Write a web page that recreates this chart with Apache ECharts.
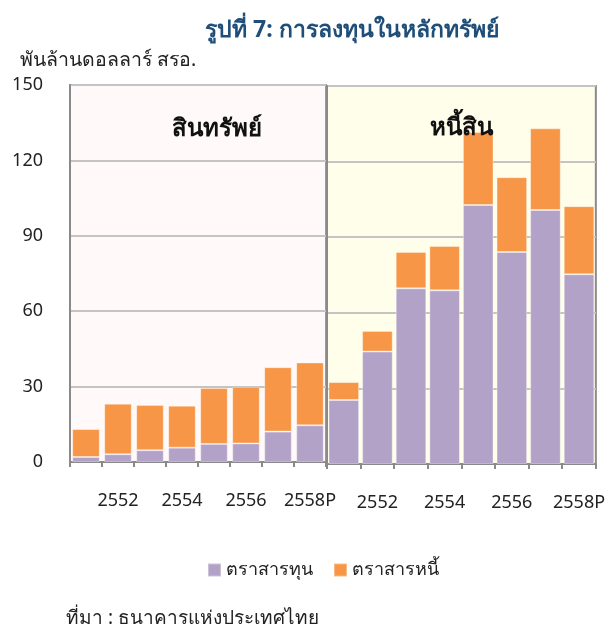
<!DOCTYPE html>
<html>
<head>
<meta charset="utf-8">
<script src="https://cdn.jsdelivr.net/npm/echarts@6/dist/echarts.min.js"></script>
<style>
html,body{margin:0;padding:0;background:#fff;}
#chart{width:608px;height:633px;}
</style>
</head>
<body>
<div id="chart"></div>
<script>
var categories = ['2551','2552','2553','2554','2555','2556','2557','2558P'];
var assetEquity = [2.0, 3.1, 4.7, 5.7, 7.2, 7.4, 12.1, 14.6];
var assetDebt = [11.1, 20.1, 18.0, 16.7, 22.2, 22.5, 25.6, 25.0];
var liabEquity = [25.4, 44.6, 69.7, 68.9, 102.8, 84.1, 100.8, 75.3];
var liabDebt = [7.1, 8.2, 14.4, 17.6, 28.9, 29.7, 32.4, 27.0];
var yTicks = [0, 30, 60, 90, 120, 150];
var seriesNames = ['ตราสารทุน', 'ตราสารหนี้'];
var panelTitles = ['สินทรัพย์', 'หนี้สิน'];

var FONT = 'Tahoma, "Noto Sans", "DejaVu Sans", sans-serif';
var PURPLE = '#B3A2C7';
var ORANGE = '#F79646';

var chart = echarts.init(document.getElementById('chart'));

function xAx(idx) {
  return {
    type: 'category', gridIndex: idx, data: categories,
    axisLine: {show: true, lineStyle: {color: '#8a8a8a', width: 2}},
    axisTick: {show: true, interval: 0, length: 5, lineStyle: {color: '#8a8a8a', width: 2}},
    axisLabel: {interval: function (i) { return i % 2 === 1; }, margin: 30, fontSize: 18, color: '#222', fontFamily: FONT}
  };
}
function yAx(idx, showLabels) {
  return {
    type: 'value', gridIndex: idx, min: 0, max: 150, interval: 30,
    axisLine: {show: true, lineStyle: {color: '#8a8a8a', width: 2}},
    axisTick: {show: false},
    axisLabel: {show: showLabels, fontSize: 18, color: '#222', margin: 27, fontFamily: FONT,
      formatter: function (v) { return yTicks.indexOf(v) >= 0 ? String(v) : ''; }},
    splitLine: {show: true, lineStyle: {color: '#C4C4C4', width: 2}}
  };
}
var barStyle = function (c) { return {color: c, borderColor: 'rgba(255,255,255,0.35)', borderWidth: 1}; };

chart.setOption({
  animation: false,
  title: {
    text: 'รูปที่ 7: การลงทุนในหลักทรัพย์',
    left: 200, top: 14,
    textStyle: {fontSize: 23, fontWeight: 'bold', color: '#1F4E79', fontFamily: FONT}
  },
  legend: {
    data: seriesNames,
    left: 202, top: 556,
    icon: 'rect', itemWidth: 13, itemHeight: 13, itemGap: 20,
    textStyle: {fontSize: 18, color: '#222', fontFamily: FONT}
  },
  grid: [
    {left: 70, top: 85, width: 256, height: 377, show: true, backgroundColor: '#FFF9F9', borderColor: '#9a9a9a', borderWidth: 2},
    {left: 327, top: 86, width: 270, height: 378, show: true, backgroundColor: '#FFFEEB', borderColor: '#8a8a8a', borderWidth: 2}
  ],
  xAxis: [xAx(0), xAx(1)],
  yAxis: [yAx(0, true), yAx(1, false)],
  series: [
    {name: seriesNames[0], type: 'bar', xAxisIndex: 0, yAxisIndex: 0, stack: 'a', data: assetEquity, barCategoryGap: '14%', itemStyle: barStyle(PURPLE)},
    {name: seriesNames[1], type: 'bar', xAxisIndex: 0, yAxisIndex: 0, stack: 'a', data: assetDebt, barCategoryGap: '14%', itemStyle: barStyle(ORANGE)},
    {name: seriesNames[0], type: 'bar', xAxisIndex: 1, yAxisIndex: 1, stack: 'b', data: liabEquity, barCategoryGap: '9%', itemStyle: barStyle(PURPLE)},
    {name: seriesNames[1], type: 'bar', xAxisIndex: 1, yAxisIndex: 1, stack: 'b', data: liabDebt, barCategoryGap: '9%', itemStyle: barStyle(ORANGE)}
  ],
  graphic: [
    {type: 'text', left: 20, top: 50, style: {text: 'พันล้านดอลลาร์ สรอ.', fontSize: 19.5, fill: '#222', fontFamily: FONT}},
    {type: 'text', x: 217, y: 129, style: {text: panelTitles[0], fontSize: 24, fontWeight: 'bold', fill: '#111', align: 'center', verticalAlign: 'middle', fontFamily: FONT}, z: 10},
    {type: 'text', x: 461, y: 128, style: {text: panelTitles[1], fontSize: 24, fontWeight: 'bold', fill: '#111', align: 'center', verticalAlign: 'middle', fontFamily: FONT}, z: 10},
    {type: 'text', left: 66, top: 609, style: {text: 'ที่มา : ธนาคารแห่งประเทศไทย', fontSize: 19, fill: '#222', fontFamily: FONT}}
  ]
});
</script>
</body>
</html>
